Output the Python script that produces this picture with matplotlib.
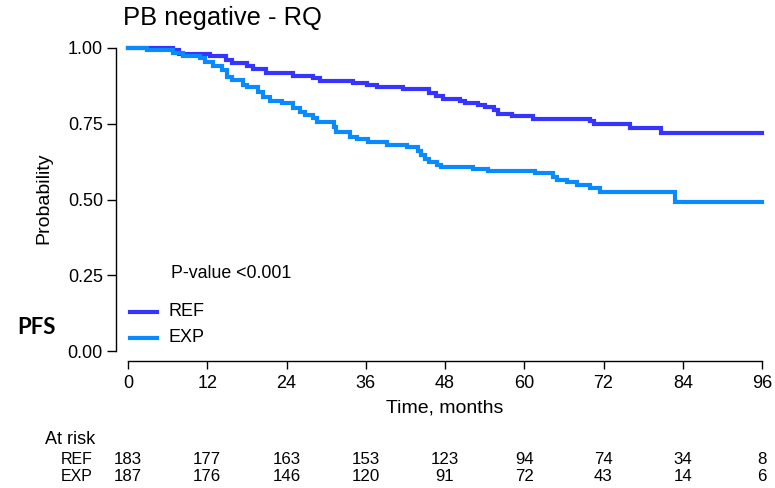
import matplotlib
matplotlib.use("Agg")
import matplotlib.pyplot as plt

plt.rcParams['font.family'] = ['Liberation Sans', 'DejaVu Sans']

# Kaplan-Meier step estimates (months, survival probability)
ref_time = [0, 6.8, 7.7, 12.4, 14.8, 15.8, 18.0, 18.9, 20.9, 25.0, 28.0, 29.1,
            34.1, 36.2, 37.7, 41.7, 45.6, 46.6, 47.7, 50.3, 51.0, 53.0, 54.1,
            55.4, 56.0, 58.1, 61.3, 70.0, 70.6, 76.0, 80.7, 96]
ref_surv = [1.000, 0.992, 0.979, 0.975, 0.960, 0.949, 0.941, 0.930, 0.919, 0.908,
            0.900, 0.892, 0.885, 0.878, 0.872, 0.865, 0.853, 0.842, 0.833, 0.826,
            0.819, 0.813, 0.806, 0.795, 0.783, 0.777, 0.767, 0.760, 0.750, 0.736,
            0.720, 0.720]

exp_time = [0, 2.9, 6.8, 8.3, 10.9, 11.7, 12.9, 14.2, 15.0, 15.8, 17.4, 18.0,
            19.7, 20.4, 21.5, 23.3, 25.0, 26.0, 26.8, 28.0, 28.6, 31.2, 31.5,
            33.6, 34.7, 36.3, 39.2, 42.2, 43.9, 44.4, 45.0, 45.6, 46.8, 47.4,
            52.2, 54.5, 61.6, 64.4, 65.0, 66.5, 68.0, 70.0, 71.5, 82.8, 96]
exp_surv = [1.000, 0.993, 0.985, 0.974, 0.967, 0.955, 0.941, 0.927, 0.905, 0.894,
            0.878, 0.870, 0.856, 0.839, 0.826, 0.818, 0.803, 0.790, 0.778, 0.768,
            0.757, 0.740, 0.724, 0.707, 0.699, 0.689, 0.680, 0.672, 0.660, 0.647,
            0.635, 0.623, 0.614, 0.608, 0.601, 0.594, 0.586, 0.575, 0.566, 0.557,
            0.549, 0.538, 0.525, 0.492, 0.492]

x_ticks = [0, 12, 24, 36, 48, 60, 72, 84, 96]
y_ticks = [0.00, 0.25, 0.50, 0.75, 1.00]
y_tick_labels = ["0.00", "0.25", "0.50", "0.75", "1.00"]

groups = ["REF", "EXP"]
colors = ["#3535FF", "#0A8AFF"]
at_risk_ref = [183, 177, 163, 153, 123, 94, 74, 34, 8]
at_risk_exp = [187, 176, 146, 120, 91, 72, 43, 14, 6]

W, H = 775, 488
fig = plt.figure(figsize=(W / 100, H / 100), dpi=100)

def fx(px):
    return px / W

def fy(py):
    return 1 - py / H

ax = fig.add_axes([fx(128), fy(351), (762 - 128) / W, (351 - 48) / H])
ax.set_xlim(0, 96)
ax.set_ylim(0, 1)

lw = 3.0
ax.step(ref_time, ref_surv, where='post', color=colors[0], lw=lw,
        clip_on=False, solid_joinstyle='miter', zorder=3)
ax.step(exp_time, exp_surv, where='post', color=colors[1], lw=lw,
        clip_on=False, solid_joinstyle='miter', zorder=4)

for s in ['top', 'right']:
    ax.spines[s].set_visible(False)
ax.spines['left'].set_position(('outward', 9))
ax.spines['bottom'].set_position(('outward', 7.5))
for s in ['left', 'bottom']:
    ax.spines[s].set_linewidth(1.0)

ax.set_xticks(x_ticks)
ax.set_xticklabels([str(t) for t in x_ticks])
ax.set_yticks(y_ticks)
ax.set_yticklabels(y_tick_labels)
ax.tick_params(axis='x', length=5.5, width=1.0, pad=4.5, labelsize=13, colors='black')
ax.tick_params(axis='y', length=6.5, width=1.0, pad=2.5, labelsize=13, colors='black')

# Title and axis labels
fig.text(fx(123), fy(18), "PB negative - RQ", fontsize=18.4, ha='left', va='center')
fig.text(fx(44), fy(198), "Probability", fontsize=14, rotation=90,
         ha='center', va='center')
fig.text(fx(445), fy(408), "Time, months", fontsize=14, ha='center', va='center')

# P-value and legend
fig.text(fx(171), fy(274), "P-value <0.001", fontsize=12.8, ha='left', va='center')
for i, (g, c) in enumerate(zip(groups, colors)):
    yy = [312, 338][i]
    fig.add_artist(plt.Line2D([fx(130), fx(157)], [fy(yy), fy(yy)], color=c, lw=lw))
    fig.text(fx(168), fy(yy), g, fontsize=13, ha='left', va='center')

fig.text(fx(17), fy(327), "PFS", fontsize=16, fontweight='bold',
         family=['Lato', 'DejaVu Sans'], ha='left', va='center')

# Number-at-risk table
fig.text(fx(45), fy(440), "At risk", fontsize=13, ha='left', va='center')
for row_label, counts, yy in [("REF", at_risk_ref, 460), ("EXP", at_risk_exp, 476.5)]:
    fig.text(fx(93), fy(yy), row_label, fontsize=11.5, ha='right', va='center')
    for t, n in zip(x_ticks, counts):
        xd = fig.transFigure.inverted().transform(ax.transData.transform((t, 0)))[0]
        fig.text(xd, fy(yy), str(n), fontsize=12.2, ha='center', va='center')

fig.savefig("out.png", dpi=100)
